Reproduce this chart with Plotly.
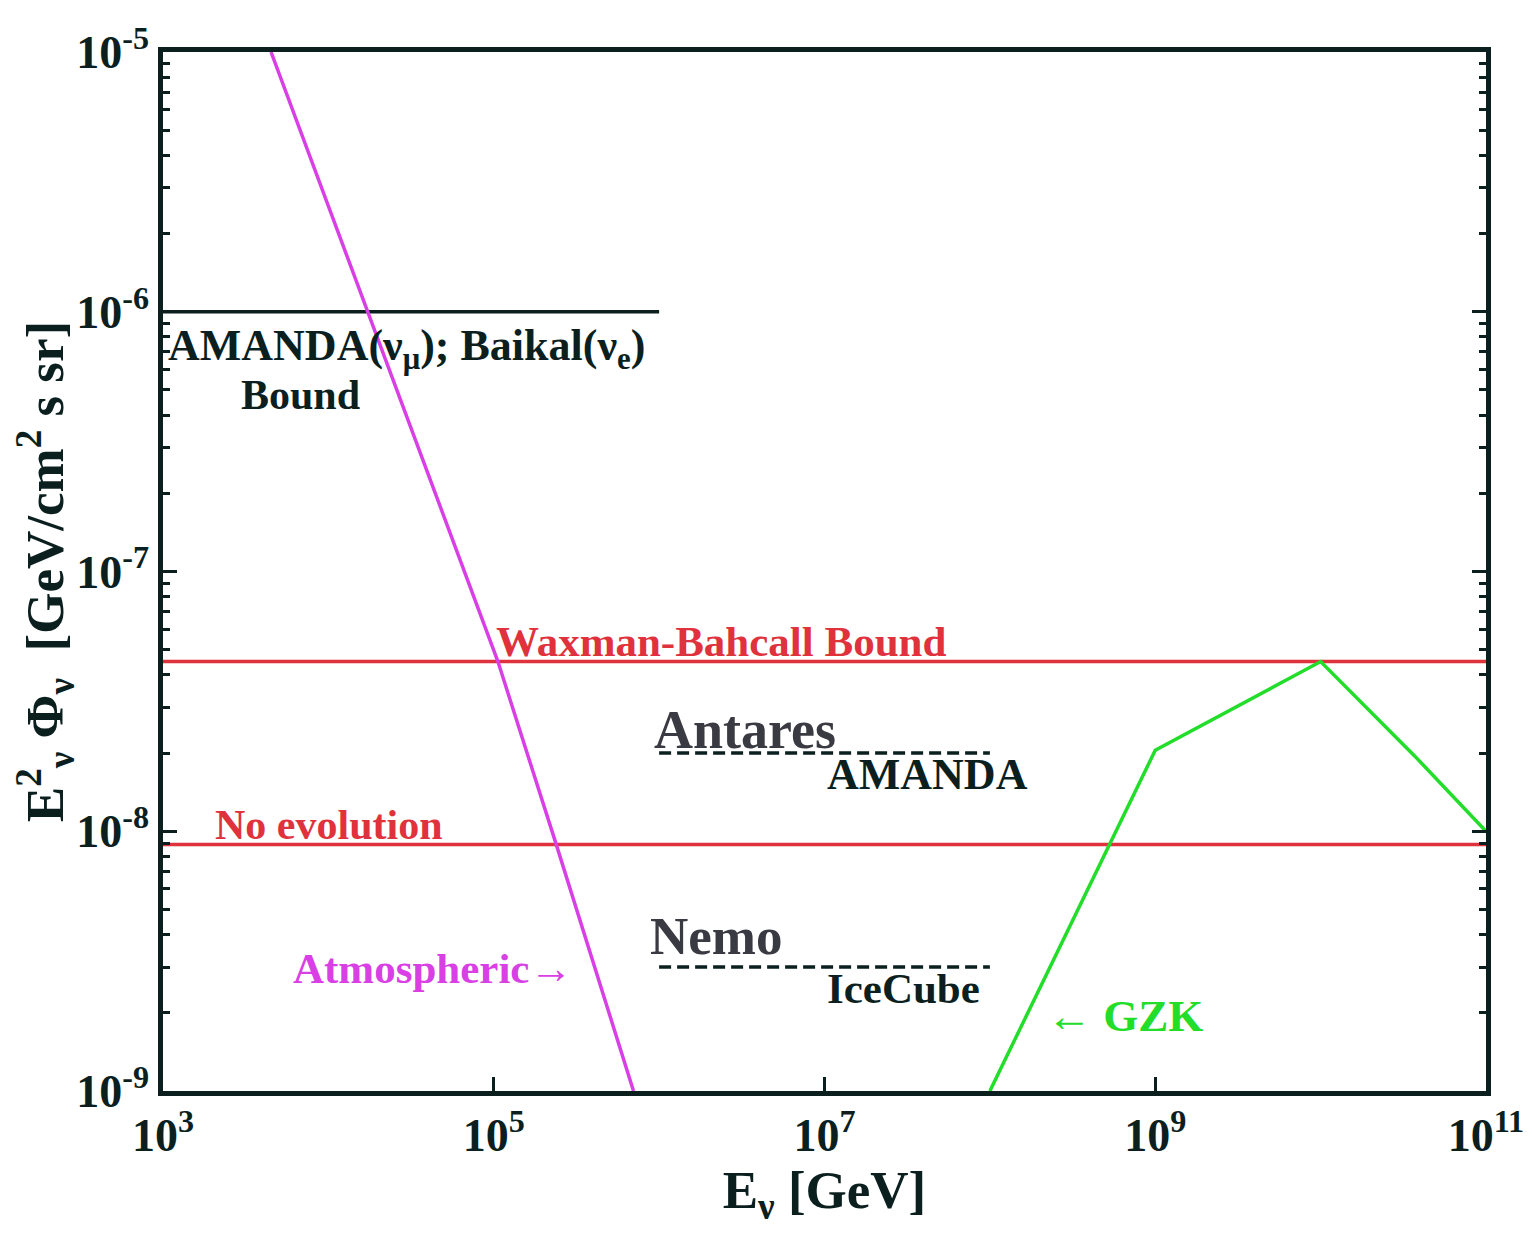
import plotly.graph_objects as go

# ---------------- data ----------------
atm_E = [4.5e3, 1.72e4, 1.06e5, 2.36e5, 7.0e5]
atm_F = [1e-5, 1e-6, 4.5e-8, 9.1e-9, 1e-9]

gzk_E = [1e8, 1e9, 1e10, 3.7e10, 1e11]
gzk_F = [1e-9, 2.05e-8, 4.5e-8, 1.95e-8, 1e-8]

amanda_baikal_E = [1e3, 1e6]
amanda_baikal_F = [1e-6, 1e-6]

wb_E = [1e3, 1e11]
wb_F = [4.5e-8, 4.5e-8]

noevo_E = [1e3, 1e11]
noevo_F = [8.9e-9, 8.9e-9]

antares_E = [1e6, 1e8]
antares_F = [2.0e-8, 2.0e-8]

nemo_E = [1e6, 1e8]
nemo_F = [3.0e-9, 3.0e-9]

x_tickvals = [1e3, 1e5, 1e7, 1e9, 1e11]
x_ticktext = ["<b>10<sup>3</sup></b>", "<b>10<sup>5</sup></b>", "<b>10<sup>7</sup></b>",
              "<b>10<sup>9</sup></b>", "<b>10<sup>11</sup></b>"]
y_tickvals = [1e-9, 1e-8, 1e-7, 1e-6, 1e-5]
y_ticktext = ["<b>10<sup>-9</sup></b>", "<b>10<sup>-8</sup></b>", "<b>10<sup>-7</sup></b>",
              "<b>10<sup>-6</sup></b>", "<b>10<sup>-5</sup></b>"]

# ---------------- style ----------------
FONT = "Liberation Serif, Times New Roman, serif"
DARK = "#0b1f1f"
RED = "#e0323c"
MAG = "#d840e6"
GRN = "#22dd2a"

fig = go.Figure()

def line(x, y, color, width=3.5, dash="solid"):
    fig.add_trace(go.Scatter(x=x, y=y, mode="lines",
                             line=dict(color=color, width=width, dash=dash),
                             showlegend=False, hoverinfo="skip"))

line(wb_E, wb_F, RED)
line(noevo_E, noevo_F, RED)
line(amanda_baikal_E, amanda_baikal_F, DARK)
line(antares_E, antares_F, DARK, width=3.5, dash="12px,6px")
line(nemo_E, nemo_F, DARK, width=3.5, dash="12px,6px")
line(atm_E, atm_F, MAG)
line(gzk_E, gzk_F, GRN)

labels = [
    # text, logx, logy, color, size, anchor
    ("<b>AMANDA(ν<sub>μ</sub>); Baikal(ν<sub>e</sub>)</b>", 3.02, -6.14, DARK, 44, "left"),
    ("<b>Bound</b>", 3.83, -6.32, DARK, 42, "center"),
    ("<b>Waxman-Bahcall Bound</b>", 5.0, -7.27, RED, 43, "left"),
    ("<b>No evolution</b>", 3.305, -7.975, RED, 42, "left"),
    ("<b>Antares</b>", 5.955, -7.61, "#3a3a42", 54, "left"),
    ("<b>AMANDA</b>", 7.0, -7.78, DARK, 44, "left"),
    ("<b>Nemo</b>", 5.93, -8.405, "#3a3a42", 53, "left"),
    ("<b>IceCube</b>", 7.0, -8.605, DARK, 43, "left"),
    ("<b>Atmospheric→</b>", 3.775, -8.53, MAG, 43, "left"),
    ("<b>← GZK</b>", 8.335, -8.71, GRN, 45, "left"),
]
for t, lx, ly, c, s, a in labels:
    fig.add_annotation(x=lx, y=ly, xref="x", yref="y", text=t, showarrow=False,
                       xanchor=a, yanchor="middle",
                       font=dict(family=FONT, size=s, color=c))

fig.update_xaxes(type="log", range=[3, 11], tickvals=x_tickvals, ticktext=x_ticktext,
                 ticks="inside", ticklen=14, tickwidth=3, tickcolor=DARK,
                 showline=True, linewidth=4.5, linecolor=DARK, mirror=True,
                 showgrid=False, zeroline=False,
                 tickfont=dict(family=FONT, size=46, color=DARK),
                 title=dict(text="<b>E<sub>ν</sub> [GeV]</b>",
                            font=dict(family=FONT, size=53, color=DARK), standoff=4))
fig.update_yaxes(type="log", range=[-9, -5], tickvals=y_tickvals, ticktext=y_ticktext,
                 ticks="inside", ticklen=14, tickwidth=3, tickcolor=DARK,
                 minor=dict(ticks="inside", ticklen=7, tickwidth=3, tickcolor=DARK,
                            tickvals=[m * 10.0 ** e for e in range(-9, -5) for m in range(2, 10)]),
                 showline=True, linewidth=4.5, linecolor=DARK, mirror="ticks",
                 showgrid=False, zeroline=False,
                 tickfont=dict(family=FONT, size=46, color=DARK),
                 title=dict(text="<b>E<sup>2</sup><sub>ν</sub> Φ<sub>ν</sub>  [GeV/cm<sup>2</sup> s sr]</b>",
                            font=dict(family=FONT, size=53, color=DARK), standoff=4))

fig.update_layout(width=1532, height=1241,
                  margin=dict(l=155, r=54, t=36, b=158),
                  paper_bgcolor="white", plot_bgcolor="white")

fig.write_html("out.html")
